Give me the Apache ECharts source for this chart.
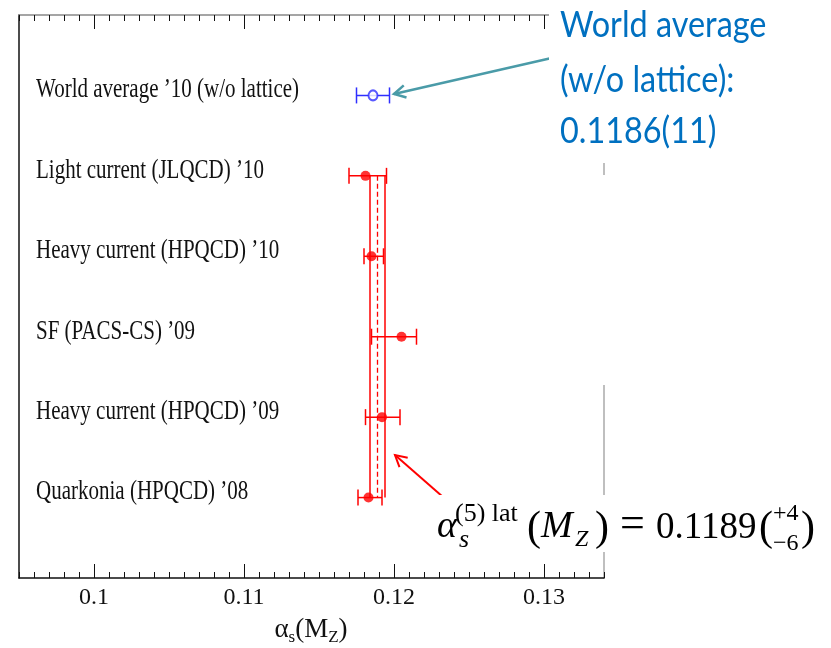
<!DOCTYPE html>
<html>
<head>
<meta charset="utf-8">
<script src="https://cdn.jsdelivr.net/npm/echarts@6/dist/echarts.min.js"></script>
<style>
  html, body { margin: 0; padding: 0; background: #fff; }
  #chart { width: 831px; height: 648px; }
</style>
</head>
<body>
<div id="chart"></div>
<script>
// rows, top to bottom
const rowLabels = [
  'World average \u201910 (w/o lattice)',
  'Light current (JLQCD) \u201910',
  'Heavy current (HPQCD) \u201910',
  'SF (PACS-CS) \u201909',
  'Heavy current (HPQCD) \u201909',
  'Quarkonia (HPQCD) \u201908'
]
const centralValues = [0.1186, 0.1181, 0.1185, 0.1205, 0.1192, 0.1183]
const lowValues = [0.1175, 0.1170, 0.1180, 0.1185, 0.1181, 0.1176]
const highValues = [0.1197, 0.1195, 0.1193, 0.1215, 0.1204, 0.1192]
const isWorldAverage = [1, 0, 0, 0, 0, 0]

// lattice average band, spans the lattice rows
const bandLow = 0.1184
const bandCentral = 0.1189
const bandHigh = 0.1194
const bandRowFirst = 2
const bandRowLast = 6

const majorTicks = [0.1, 0.11, 0.12, 0.13]
const xMin = 0.095
const xMax = 0.134

const SERIF = '"Liberation Serif", "Times New Roman", serif'
const RED = '#ff0000'
const BLUE = '#2f2fff'
const TEAL = '#4a9ba8'

const chart = echarts.init(document.getElementById('chart'))

// error bar: horizontal line with caps
const renderErrorBar = (params, api) => {
  const row = api.value(0)
  const lo = api.coord([api.value(1), row])
  const hi = api.coord([api.value(2), row])
  const color = api.value(3) ? BLUE : RED
  const cap = 8
  const st = { stroke: color, lineWidth: 1.5 }
  return {
    type: 'group',
    children: [
      { type: 'line', shape: { x1: lo[0], y1: lo[1], x2: hi[0], y2: hi[1] }, style: st },
      { type: 'line', shape: { x1: lo[0], y1: lo[1] - cap, x2: lo[0], y2: lo[1] + cap }, style: st },
      { type: 'line', shape: { x1: hi[0], y1: hi[1] - cap, x2: hi[0], y2: hi[1] + cap }, style: st }
    ]
  }
}

// row labels inside the frame
const renderLabel = (params, api) => {
  const pt = api.coord([xMin, api.value(1)])
  return {
    type: 'text',
    x: pt[0] + 17,
    y: pt[1] - 5,
    scaleY: 1.25,
    style: {
      text: rowLabels[params.dataIndex],
      font: '21px ' + SERIF,
      fill: '#111',
      verticalAlign: 'middle'
    }
  }
}

// arrow with open head
const arrow = (x1, y1, x2, y2, color, w) => {
  const a = Math.atan2(y1 - y2, x1 - x2)
  const len = 13
  const s = 0.5
  return {
    type: 'group',
    z: 100,
    children: [
      { type: 'line', shape: { x1, y1, x2, y2 }, style: { stroke: color, lineWidth: w } },
      {
        type: 'polyline',
        shape: { points: [
          [x2 + len * Math.cos(a + s), y2 + len * Math.sin(a + s)],
          [x2, y2],
          [x2 + len * Math.cos(a - s), y2 + len * Math.sin(a - s)]
        ] },
        style: { stroke: color, lineWidth: w, fill: null }
      }
    ]
  }
}

// text piece placed by its baseline
const piece = (text, x, base, size, italic) => ({
  type: 'text',
  z: 101,
  x: x,
  y: base - size * 0.33,
  style: {
    text: text,
    font: (italic ? 'italic ' : '') + size + 'px ' + SERIF,
    fill: '#000',
    verticalAlign: 'middle'
  }
})

const blueText = (text, x, base) => ({
  type: 'text',
  z: 101,
  x: x,
  y: base - 36 * 0.33,
  scaleX: 0.9,
  style: { text: text, font: '36px Lato', fill: '#0070c0', verticalAlign: 'middle' }
})

const rows = rowLabels.map((_, i) => i + 1)

const gridBox = { left: 19, right: 227, top: 15, bottom: 70, containLabel: false, outerBoundsMode: 'none' }
const noSplit = { show: false }
const tickStyle = { color: '#111', width: 1 }

// x axis with inward ticks; major ticks get their own axis so they can be longer
const xAxisOf = (gridIndex, position, extra) => Object.assign({
  type: 'value', gridIndex, position, min: xMin, max: xMax,
  axisLine: { show: false, onZero: false },
  axisLabel: { show: false },
  splitLine: noSplit
}, extra)

const option = {
  animation: false,
  grid: [gridBox, Object.assign({}, gridBox)],
  xAxis: [
    xAxisOf(0, 'bottom', {
      interval: 0.001,
      axisLine: { show: true, onZero: false, lineStyle: { color: '#111', width: 1.5 } },
      axisTick: { show: true, inside: true, length: 6, lineStyle: tickStyle },
      axisLabel: {
        show: true,
        customValues: majorTicks,
        fontFamily: SERIF, fontSize: 24, color: '#111', margin: 8
      }
    }),
    xAxisOf(0, 'top', {
      interval: 0.001,
      axisLine: { show: true, onZero: false, lineStyle: { color: '#888', width: 1.5 } },
      axisTick: { show: true, inside: true, length: 6, lineStyle: tickStyle }
    }),
    xAxisOf(1, 'bottom', {
      axisTick: { show: true, inside: true, length: 14, customValues: majorTicks, lineStyle: tickStyle }
    }),
    xAxisOf(1, 'top', {
      axisTick: { show: true, inside: true, length: 14, customValues: majorTicks, lineStyle: tickStyle }
    })
  ],
  yAxis: [
    {
      type: 'value', gridIndex: 0, min: 0, max: 7, inverse: true, position: 'left',
      axisLine: { show: true, onZero: false, lineStyle: { color: '#111', width: 1.5 } },
      axisTick: { show: false }, axisLabel: { show: false }, splitLine: noSplit
    },
    {
      type: 'value', gridIndex: 0, min: 0, max: 7, inverse: true, position: 'right',
      axisLine: { show: true, onZero: false, lineStyle: { color: '#aaa', width: 1.5 } },
      axisTick: { show: false }, axisLabel: { show: false }, splitLine: noSplit
    },
    {
      type: 'value', gridIndex: 1, min: 0, max: 7,
      axisLine: { show: false, onZero: false },
      axisTick: { show: false }, axisLabel: { show: false }, splitLine: noSplit
    }
  ],
  series: [
    {
      type: 'custom',
      renderItem: renderLabel,
      data: rows.map(r => [xMin, r]),
      silent: true
    },
    {
      name: 'band',
      type: 'line',
      data: [[bandLow, bandRowFirst], [bandLow, bandRowLast]],
      symbol: 'none',
      lineStyle: { color: RED, width: 1.5 }
    },
    {
      name: 'band',
      type: 'line',
      data: [[bandHigh, bandRowFirst], [bandHigh, bandRowLast]],
      symbol: 'none',
      lineStyle: { color: RED, width: 1.5 }
    },
    {
      name: 'central',
      type: 'line',
      data: [[bandCentral, bandRowFirst], [bandCentral, bandRowLast]],
      symbol: 'none',
      lineStyle: { color: RED, width: 1.3, type: [5, 3] }
    },
    {
      type: 'custom',
      renderItem: renderErrorBar,
      data: rows.map((r, i) => [r, lowValues[i], highValues[i], isWorldAverage[i]]),
      encode: { x: [1, 2], y: 0 },
      z: 3
    },
    {
      type: 'scatter',
      symbol: 'circle',
      symbolSize: 10,
      itemStyle: { color: RED },
      data: rows.filter((r, i) => !isWorldAverage[i]).map(r => [centralValues[r - 1], r]),
      z: 4
    },
    {
      type: 'scatter',
      symbol: 'emptyCircle',
      symbolSize: [9, 10],
      itemStyle: { color: BLUE, borderColor: BLUE, borderWidth: 1.5 },
      data: rows.filter((r, i) => isWorldAverage[i]).map(r => [centralValues[r - 1], r]),
      z: 4
    }
  ],
  graphic: [
    // x axis title
    {
      type: 'text',
      x: 311,
      y: 630,
      style: {
        text: '{a|α}{s|s}{a|(M}{s|Z}{a|)}',
        align: 'center',
        verticalAlign: 'middle',
        rich: {
          a: { fontFamily: SERIF, fontSize: 27, fill: '#111' },
          s: { fontFamily: SERIF, fontSize: 17, fill: '#111', padding: [16, 0, 0, 0] }
        }
      }
    },
    // white areas of the overlaid annotations
    { type: 'rect', z: 100, shape: { x: 549, y: 0, width: 282, height: 163 }, style: { fill: '#fff' } },
    { type: 'rect', z: 100, shape: { x: 596, y: 175, width: 20, height: 210 }, style: { fill: '#fff' } },
    { type: 'rect', z: 100, shape: { x: 430, y: 495, width: 401, height: 57 }, style: { fill: '#fff' } },
    arrow(556, 57, 394, 94, TEAL, 2.5),
    arrow(443, 497, 395, 455, RED, 2),
    blueText('World average', 560, 37),
    blueText('(w/o lattice):', 560, 92),
    blueText('0.1186(11)', 560, 143),
    piece('α', 437, 540, 38, true),
    piece('s', 459, 549, 26, true),
    piece('(5) lat', 455, 523, 26, false),
    piece('(', 527, 543, 42, false),
    piece('M', 541, 540, 38, true),
    piece('Z', 575, 548, 24, true),
    piece(')', 595, 543, 42, false),
    piece('=', 620, 540, 44, false),
    piece('0.1189', 656, 540, 37, false),
    piece('(', 759, 543, 42, false),
    piece('+4', 773, 522, 24, false),
    piece('\u22126', 773, 552, 24, false),
    piece(')', 801, 543, 42, false)
  ]
}

chart.setOption(option)
</script>
</body>
</html>
